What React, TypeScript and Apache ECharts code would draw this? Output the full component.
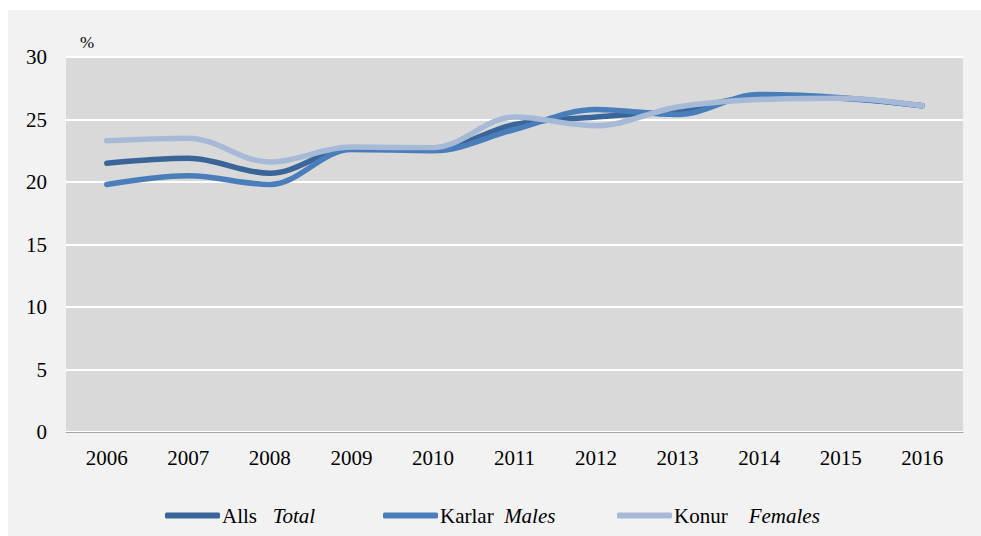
import React, { useEffect, useRef } from "react";
import * as echarts from "echarts";

const years = ["2006", "2007", "2008", "2009", "2010", "2011", "2012", "2013", "2014", "2015", "2016"];
const total = [21.5, 21.9, 20.7, 22.7, 22.6, 24.6, 25.2, 25.7, 26.8, 26.7, 26.1];
const males = [19.8, 20.5, 19.8, 22.6, 22.5, 24.2, 25.8, 25.4, 27.0, 26.75, 26.1];
const females = [23.3, 23.5, 21.6, 22.8, 22.75, 25.2, 24.5, 26.0, 26.6, 26.7, 26.1];
const seriesNames = ["Alls", "Karlar", "Konur"];
const seriesEnglish = ["Total", "Males", "Females"];
const seriesSpacer = ["   ", "  ", "    "];
const colors = ["#3a6598", "#4a7ebb", "#a6b9d7"];

export default function App() {
  const ref = useRef<HTMLDivElement>(null);
  useEffect(() => {
    if (!ref.current) return;
    const chart = echarts.init(ref.current, undefined, { renderer: "svg" });
    const data = [total, males, females];
    const font = "Liberation Serif";
    const legendLefts = [157, 375, 609];
    chart.setOption({
      animation: false,
      backgroundColor: "#f2f2f2",
      textStyle: { fontFamily: font },
      grid: { left: 58, top: 47, right: 18, bottom: 104, backgroundColor: "#d9d9d9", show: true, borderWidth: 0 },
      legend: seriesNames.map((n, i) => ({
        left: legendLefts[i],
        top: 495,
        padding: 0,
        itemWidth: 55,
        itemHeight: 6,
        icon: "roundRect",
        textStyle: {
          fontFamily: font,
          fontSize: 21,
          color: "#000",
          padding: [0, 0, 0, -3],
          rich: { i: { fontStyle: "italic", fontFamily: font, fontSize: 21, color: "#000" } },
        },
        formatter: (name: string) => {
          const idx = seriesNames.indexOf(name);
          return name + seriesSpacer[idx] + "{i|" + seriesEnglish[idx] + "}";
        },
        data: [n],
      })),
      xAxis: {
        type: "category",
        data: years,
        boundaryGap: true,
        axisLine: { lineStyle: { color: "#a6a6a6", width: 1 } },
        axisTick: { show: false },
        axisLabel: { color: "#000", fontSize: 21, margin: 15, fontFamily: font },
      },
      yAxis: {
        type: "value",
        min: 0,
        max: 30,
        interval: 5,
        axisLine: { show: false },
        axisTick: { show: false },
        axisLabel: { color: "#000", fontSize: 21, margin: 19, fontFamily: font },
        splitLine: { lineStyle: { color: "#ffffff", width: 2 } },
      },
      graphic: [
        {
          type: "text",
          left: 72,
          top: 24,
          style: { text: "%", fontSize: 17, fontFamily: font, fill: "#000" },
        },
      ],
      series: seriesNames.map((n, i) => ({
        name: n,
        type: "line",
        data: data[i],
        smooth: 0.35,
        showSymbol: false,
        symbol: "none",
        z: 2 + i,
        lineStyle: { color: colors[i], width: 5.5, cap: "round", join: "round" },
        itemStyle: { color: colors[i] },
      })),
    });
    return () => chart.dispose();
  }, []);
  return (
    <div
      ref={ref}
      style={{ position: "absolute", left: 8, top: 10, width: 973, height: 526 }}
    />
  );
}
